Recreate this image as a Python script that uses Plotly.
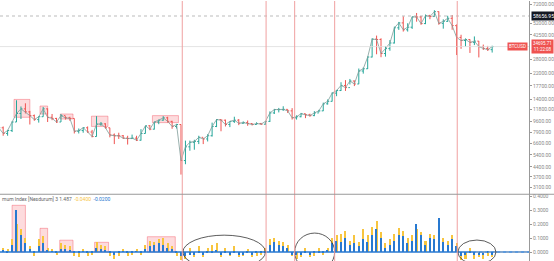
import math
import pandas as pd
import plotly.graph_objects as go
from plotly.subplots import make_subplots

# ---------------- data (weekly) ----------------
first_open = 8200
close = [8600, 7800, 8200, 9500, 11000, 11900, 11300, 10600, 9900, 10400, 11900, 10300, 10100, 9500,
         10600, 10200, 10100, 8100, 8200, 8600, 8000, 7400, 9150, 9200, 8600, 7600, 7500, 7500, 7200,
         7150, 7200,
         6950, 7800, 8900, 8400, 9500, 9800, 10200, 9600, 8800, 9100, 4900, 6200, 6700, 6800, 7300,
         7100, 7500, 8800, 9900, 9800, 9100, 9600, 9800, 9300, 9400, 9250, 9100, 9250, 9150, 9600,
         11100, 11750, 11750, 11800, 11500, 10200, 10400, 10950, 10750, 10600, 11100, 11500, 12980,
         13550, 15600, 16300, 17800, 17150, 19200, 18250, 22800, 23700, 29000,
         39400, 39200, 30800, 33500, 36900, 47900, 52100, 46300, 48400, 57800, 57700, 51500, 59000,
         58100, 63200, 51700, 53500, 56400, 49700, 40600, 38500, 39200, 37300, 38100, 34700, 33600,
         32900, 34695.71]
high = [9070, 8800, 8300, 9600, 13800, 12400, 13100, 11500, 10800, 10500, 12300, 12000, 10900, 10200,
        10900, 10500, 10400, 10100, 8500, 8700, 8800, 8300, 10500, 9500, 9300, 8600, 7800, 7900, 7600,
        7500, 7650,
        7500, 8400, 8900, 9000, 9550, 9900, 10500, 10400, 9700, 9200, 9100, 6900, 6900, 7000, 7500,
        7200, 7700, 9400, 10000, 9950, 9900, 9600, 10400, 10000, 9600, 9750, 9300, 9450, 9350, 9650,
        11400, 11900, 12100, 12450, 11800, 12050, 10650, 11100, 10950, 10950, 11450, 11700, 13250,
        14000, 15800, 16500, 18800, 19500, 19900, 19400, 23800, 24200, 29300,
        40000, 41900, 40000, 35000, 38800, 48900, 53000, 58300, 51800, 58000, 61800, 58700, 60200,
        59900, 64800, 63500, 55400, 58900, 59600, 50800, 42500, 39900, 39300, 41300, 38200, 35900,
        35100, 35200]
low = [8100, 7500, 7500, 8000, 9500, 10000, 11000, 9100, 9700, 9400, 10400, 9500, 9800, 9350,
       9500, 9900, 9700, 7800, 7800, 7900, 7900, 7300, 7400, 8900, 8500, 7300, 6500, 7100, 7100,
       6450, 7100,
       6850, 6900, 7800, 8250, 8350, 9150, 9700, 9400, 8450, 8500, 3850, 4600, 5800, 5900, 6500,
       6500, 6800, 7400, 8700, 8100, 8800, 8700, 9350, 9000, 9200, 8900, 8950, 9100, 9050, 9050,
       9500, 10900, 11200, 11500, 11100, 9900, 9900, 10300, 10150, 10400, 10500, 11200, 11450,
       12800, 13500, 14800, 16200, 16200, 18100, 17600, 18200, 21800, 23600,
       28800, 30400, 28900, 29200, 32300, 36600, 46200, 44900, 44900, 47000, 53200, 50400, 51000,
       55500, 57800, 50500, 47200, 53000, 46300, 30000, 33400, 34800, 31100, 35600, 28800, 32700,
       32200, 31300]
ind_yellow = [0.04, 0.03, 0.02, 0.09, 0.20, 0.16, 0.10, 0.04, -0.03, 0.09, 0.11, 0.03, 0.02, -0.02,
              0.06, 0.05, 0.04, -0.03, -0.04, 0.02, -0.03, -0.02, 0.07, 0.05, 0.04, -0.03, -0.05,
              -0.03, 0.02, -0.03, -0.02, 0.02, -0.02, 0.05, 0.08, 0.07, 0.09, 0.10, 0.06, 0.04, -0.03,
              -0.06, -0.05, 0.03, -0.04, 0.04, -0.04, 0.03, 0.05, 0.06, -0.04, 0.03, -0.03, 0.04,
              -0.04, -0.03, 0.02, -0.04, -0.03, -0.02, 0.03, 0.09, 0.10, 0.08, 0.07, 0.05, -0.03,
              -0.05, -0.04, 0.03, -0.04, -0.03, 0.03, -0.02, 0.03, 0.10, 0.12, 0.13, 0.15, 0.08, 0.12,
              0.07, 0.16, 0.12, 0.18, 0.22, 0.14, 0.06, 0.09, 0.13, 0.17, 0.15, 0.10, 0.12, 0.16, 0.14,
              0.08, 0.13, 0.12, 0.17, 0.10, 0.08, 0.12, 0.06, -0.06, -0.05, 0.03, -0.05, -0.04, -0.05,
              -0.03, -0.04]
ind_blue = [0.01, 0.01, -0.01, 0.05, 0.30, 0.12, 0.06, 0.02, -0.01, 0.04, 0.06, 0.01, 0.005, -0.005,
            0.02, 0.02, 0.01, -0.01, -0.01, 0.005, -0.01, -0.005, 0.03, 0.02, 0.01, -0.01, -0.02,
            -0.01, 0.005, -0.01, -0.005, 0.005, -0.005, 0.02, 0.04, 0.05, 0.06, 0.05, 0.03, 0.02,
            -0.01, -0.03, -0.03, -0.02, -0.02, -0.01, -0.02, -0.01, -0.01, 0.01, -0.02, -0.01, -0.02,
            -0.01, -0.02, -0.02, -0.01, -0.02, -0.01, -0.01, -0.01, 0.05, 0.07, 0.05, 0.04, 0.03,
            -0.02, -0.02, -0.02, -0.01, -0.02, -0.01, -0.01, -0.01, 0.01, 0.06, 0.08, 0.07, 0.10,
            0.05, 0.06, 0.04, 0.09, 0.07, 0.12, 0.16, 0.10, 0.03, 0.05, 0.08, 0.12, 0.11, 0.06, 0.08,
            0.20, 0.12, 0.05, 0.10, 0.09, 0.24, 0.07, 0.05, 0.09, 0.04, -0.03, -0.02, -0.01, -0.02,
            -0.02, -0.02, -0.01, -0.02]

dates = pd.date_range("2019-05-28", periods=len(close), freq="7D")
opens = [first_open] + close[:-1]

event_dates = ["2020-03-12", "2020-07-22", "2020-09-05", "2020-11-07", "2021-05-19"]
price_boxes = [("2019-06-21", "2019-07-16", 10300, 14000), ("2019-08-01", "2019-08-13", 10900, 12500),
               ("2019-09-02", "2019-09-22", 10000, 10900), ("2019-10-21", "2019-11-16", 8800, 10500),
               ("2020-01-25", "2020-03-06", 9400, 10600)]
ind_boxes = [("2019-06-18", "2019-07-09", 0.335), ("2019-08-01", "2019-08-13", 0.17),
             ("2019-09-01", "2019-09-22", 0.085), ("2019-10-26", "2019-11-17", 0.07),
             ("2020-01-17", "2020-03-01", 0.11)]
arcs = [("2020-03-13", "2020-07-21", 0.121), ("2020-09-05", "2020-11-07", 0.136),
        ("2021-05-20", "2021-07-19", 0.086)]
price_ticks = [72000, 52000, 42500, 28000, 22000, 17700, 14000, 11800, 9600, 7900, 6600, 5400,
               4400, 3700, 3100]
ind_ticks = [0.0, 0.1, 0.2, 0.3, 0.4]
alert_level = 58656.95
last_label = "11:22:08"

# ---------------- figure ----------------
D0 = 1 - 194 / 261
R0, R1 = math.log10(2746), math.log10(75900)


def py(p):
    return D0 + (math.log10(p) - R0) / (R1 - R0) * (1 - D0)


fig = make_subplots(rows=2, cols=1, shared_xaxes=True, vertical_spacing=0,
                    row_heights=[1 - D0, D0])
fig.add_trace(go.Scatter(x=dates, y=close, mode="lines", line=dict(color="#7f9c98", width=0.8),
                         showlegend=False, hoverinfo="skip"), row=1, col=1)
fig.add_trace(go.Ohlc(x=dates, open=opens, high=high, low=low, close=close, tickwidth=0.35,
                      increasing=dict(line=dict(color="#26a69a", width=1)),
                      decreasing=dict(line=dict(color="#ef5350", width=1)),
                      showlegend=False), row=1, col=1)
bw = 3.2 * 86400000
fig.add_trace(go.Bar(x=dates, y=ind_yellow, marker=dict(color="#f7c53f", line=dict(width=0)),
                     width=bw, showlegend=False), row=2, col=1)
fig.add_trace(go.Bar(x=dates, y=ind_blue, marker=dict(color="#2879d0", line=dict(width=0)),
                     width=bw * 0.7, showlegend=False), row=2, col=1)

fig.update_layout(
    width=554, height=261, margin=dict(l=0, r=23, t=0, b=0),
    paper_bgcolor="white", plot_bgcolor="white", barmode="overlay", bargap=0,
    font=dict(family="Roboto", size=5, color="#777"),
)
xr = ["2019-05-30", "2021-09-09"]
fig.update_xaxes(range=xr, showticklabels=False, showgrid=False, zeroline=False,
                 rangeslider_visible=False, ticks="")
fig.update_yaxes(type="log", range=[R0, R1], side="right", showgrid=False, zeroline=False,
                 tickvals=price_ticks, ticktext=[f"{v:.2f}" for v in price_ticks],
                 ticks="outside", ticklen=2, tickcolor="#999", showline=True, linecolor="#999",
                 linewidth=1, tickfont=dict(size=5, color="#888"), row=1, col=1)
fig.update_yaxes(range=[-0.064, 0.414], side="right", showgrid=False, zeroline=False,
                 tickvals=ind_ticks, ticktext=[f"{v:.4f}" for v in ind_ticks],
                 ticks="outside", ticklen=2, tickcolor="#999", showline=True, linecolor="#999",
                 linewidth=1, tickfont=dict(size=5, color="#888"), row=2, col=1)

shapes = []
shapes.append(dict(type="line", xref="paper", yref="paper", x0=0, x1=1, y0=py(alert_level),
                   y1=py(alert_level), line=dict(color="#aaa", width=0.8, dash="dot")))
shapes.append(dict(type="line", xref="paper", yref="paper", x0=0, x1=1, y0=py(close[-1]),
                   y1=py(close[-1]), line=dict(color="#ddd", width=0.8)))
for d0, d1, lo, hi in price_boxes:
    shapes.append(dict(type="rect", xref="x", yref="paper", x0=d0, x1=d1, y0=py(lo), y1=py(hi),
                       fillcolor="rgba(242,54,69,0.18)", line=dict(color="rgba(242,54,69,0.45)", width=0.8),
                       layer="below"))
for d0, d1, top in ind_boxes:
    shapes.append(dict(type="rect", xref="x2", yref="y2", x0=d0, x1=d1, y0=0, y1=top,
                       fillcolor="rgba(242,54,69,0.18)", line=dict(color="rgba(242,54,69,0.45)", width=0.8),
                       layer="below"))
shapes.append(dict(type="line", xref="paper", yref="y2", x0=0, x1=1, y0=0, y1=0,
                   line=dict(color="#2879d0", width=1.5)))
shapes.append(dict(type="line", xref="paper", yref="y2", x0=0.9, x1=1, y0=0, y1=0,
                   line=dict(color="#bbb", width=0.8, dash="dot")))
for d0, d1, top in arcs:
    shapes.append(dict(type="circle", xref="x2", yref="y2", x0=d0, x1=d1, y0=-top, y1=top,
                       line=dict(color="#333", width=0.8)))
for d in event_dates:
    shapes.append(dict(type="line", xref="x", yref="paper", x0=d, x1=d, y0=0, y1=1,
                       line=dict(color="#f0a0a0", width=1)))
shapes.append(dict(type="line", xref="paper", yref="paper", x0=0, x1=1.05, y0=D0, y1=D0,
                   line=dict(color="#999", width=1)))
fig.update_layout(shapes=shapes)

ann = []
ann.append(dict(xref="paper", yref="paper", x=1.004, y=py(alert_level), xanchor="left", yanchor="middle",
                text=f"{alert_level:.2f}", showarrow=False, bgcolor="#131722",
                font=dict(size=5, color="white"), borderpad=1))
ann.append(dict(xref="paper", yref="paper", x=1.004, y=py(close[-1]), xanchor="left", yanchor="middle",
                text=f"{close[-1]:.2f}<br>{last_label}", showarrow=False, bgcolor="#ef5350",
                font=dict(size=4.5, color="white"), borderpad=1))
ann.append(dict(xref="paper", yref="paper", x=0.998, y=py(close[-1]), xanchor="right", yanchor="middle",
                text="BTCUSD", showarrow=False, bgcolor="#ef5350",
                font=dict(size=4.5, color="white"), borderpad=1))
ann.append(dict(xref="paper", yref="paper", x=0, y=1 - 199 / 261, xanchor="left", yanchor="middle",
                text=("mum Index [Nesdurum] 3 1.487  "
                      f"<span style='color:#f7c53f'>{ind_yellow[-1]:.4f}</span>  "
                      f"<span style='color:#2879d0'>{ind_blue[-1]:.4f}</span>"),
                showarrow=False, font=dict(size=5, color="#666")))
fig.update_layout(annotations=ann)

fig.write_html("out.html")
